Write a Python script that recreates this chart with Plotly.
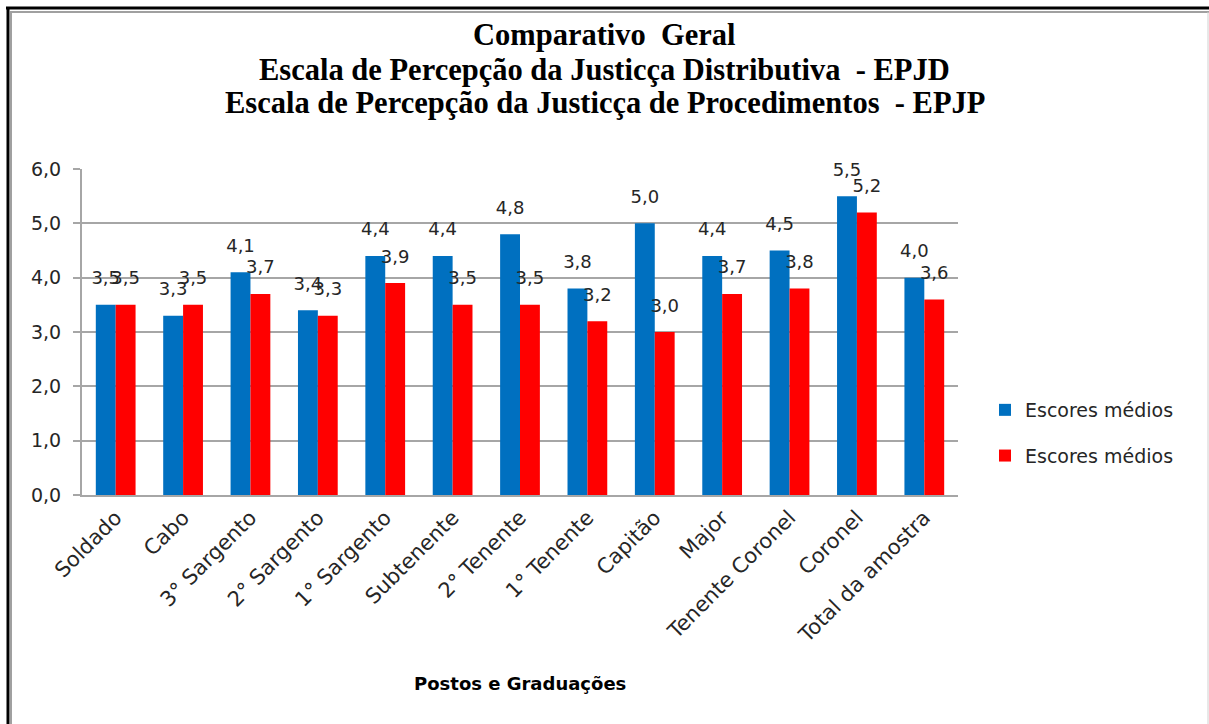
import plotly.graph_objects as go

categories = ["Soldado", "Cabo", "3° Sargento", "2° Sargento", "1° Sargento", "Subtenente",
              "2° Tenente", "1° Tenente", "Capitão", "Major", "Tenente Coronel", "Coronel",
              "Total da amostra"]
epjd = [3.5, 3.3, 4.1, 3.4, 4.4, 4.4, 4.8, 3.8, 5.0, 4.4, 4.5, 5.5, 4.0]
epjp = [3.5, 3.5, 3.7, 3.3, 3.9, 3.5, 3.5, 3.2, 3.0, 3.7, 3.8, 5.2, 3.6]
series_names = ["Escores médios", "Escores médios"]
colors = ["#0070C0", "#FF0000"]
title_lines = ["Comparativo  Geral",
               "Escala de Percepção da Justicça Distributiva  - EPJD",
               "Escala de Percepção da Justicça de Procedimentos  - EPJP"]
x_title = "Postos e Graduações"

W, H = 1209, 724
L, R, T, B = 82, 251, 169, 229
PW, PH = W - L - R, H - T - B

def px_x(p):
    return (p - L) / PW

def px_y(p):
    return (H - B - p) / PH

TXT = "#262626"

fig = go.Figure()
for i, (vals, name, col) in enumerate(zip([epjd, epjp], series_names, colors)):
    fig.add_trace(go.Bar(
        x=categories, y=vals, name=name, marker_color=col, marker_line_width=0,
        offsetgroup=str(i), legendgroup=str(i), hoverinfo="skip",
    ))
for i, vals in enumerate([epjd, epjp]):
    fig.add_trace(go.Scatter(
        x=categories, y=vals, mode="markers+text", offsetgroup=str(i),
        marker=dict(size=24, opacity=0), texttemplate="%{y:.1f}",
        textposition="top center", textfont=dict(family="DejaVu Sans", size=18, color=TXT),
        showlegend=False, hoverinfo="skip", cliponaxis=False,
    ))

annotations = []
for line, yc in zip(title_lines, [35, 70, 103]):
    annotations.append(dict(text="<b>" + line + "</b>", x=px_x(W / 2), xref="paper", y=px_y(yc), yref="paper",
                            xanchor="center", yanchor="middle", showarrow=False,
                            font=dict(family="Liberation Serif", size=30.5, color="black")))
annotations.append(dict(text="<b>" + x_title + "</b>", x=0.5, xref="paper",
                        y=px_y(683), yref="paper", showarrow=False,
                        xanchor="center", yanchor="middle",
                        font=dict(family="DejaVu Sans", size=18, color="black")))

fig.update_layout(
    width=W, height=H,
    margin=dict(l=L, r=R, t=T, b=B, autoexpand=False),
    paper_bgcolor="white", plot_bgcolor="white",
    separators=",.",
    barmode="group", bargap=0.41, bargroupgap=0,
    scattermode="group", scattergap=0.41,
    xaxis=dict(showline=True, linecolor="#A6A6A6", linewidth=2, ticks="",
               tickangle=-45, tickfont=dict(family="DejaVu Sans", size=21, color=TXT),
               showgrid=False),
    yaxis=dict(range=[0, 6], dtick=1, tickformat=".1f", showline=True, linecolor="#A6A6A6",
               linewidth=2, ticks="outside", ticklen=7, tickcolor="#A6A6A6", tickwidth=2,
               gridcolor="#A6A6A6", gridwidth=2, zeroline=False, ticklabelstandoff=8,
               tickfont=dict(family="DejaVu Sans", size=19, color=TXT)),
    legend=dict(x=px_x(985), y=px_y(433), xanchor="left", yanchor="middle",
                traceorder="grouped", tracegroupgap=18,
                font=dict(family="DejaVu Sans", size=19, color=TXT)),
    showlegend=True,
    annotations=annotations,
    shapes=[
        dict(type="line", xref="paper", yref="paper", x0=px_x(6), x1=px_x(1209), y0=px_y(8), y1=px_y(8),
             line=dict(color="black", width=3)),
        dict(type="line", xref="paper", yref="paper", x0=px_x(8), x1=px_x(8), y0=px_y(7), y1=px_y(724),
             line=dict(color="black", width=3)),
        dict(type="line", xref="paper", yref="paper", x0=px_x(10), x1=px_x(1209), y0=px_y(12), y1=px_y(12),
             line=dict(color="#A0A0A0", width=2)),
        dict(type="line", xref="paper", yref="paper", x0=px_x(11), x1=px_x(11), y0=px_y(12), y1=px_y(724),
             line=dict(color="#A0A0A0", width=2)),
        dict(type="line", xref="paper", yref="paper", x0=px_x(1208), x1=px_x(1208), y0=px_y(12), y1=px_y(724),
             line=dict(color="#D0D0D0", width=1)),
    ],
)

fig.write_html("out.html", config={"displayModeBar": False},
               post_script="document.body.style.margin='0px';")
